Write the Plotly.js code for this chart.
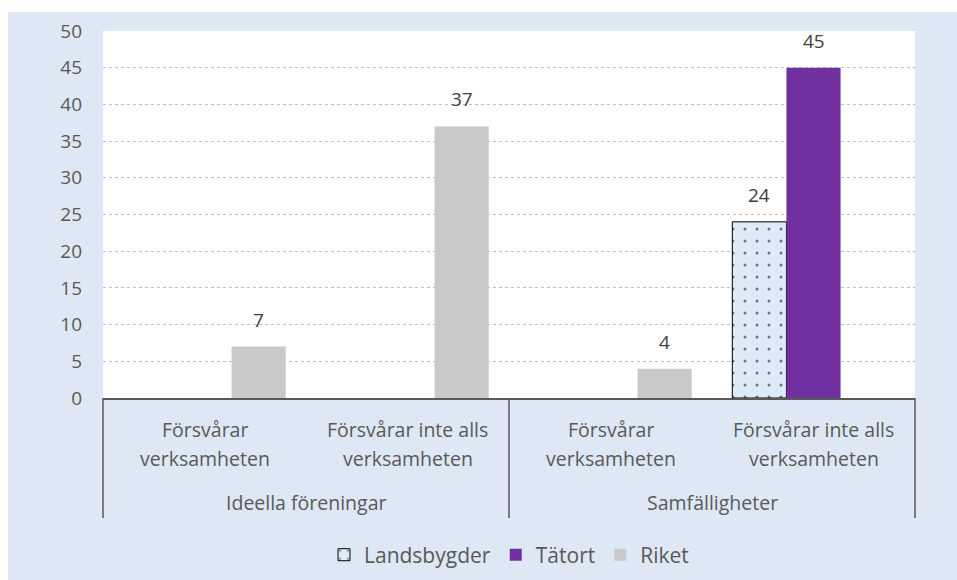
<!DOCTYPE html>
<html>
<head>
<meta charset="utf-8">
<script src="https://cdn.plot.ly/plotly-3.0.1.min.js"></script>
<style>
html,body{margin:0;padding:0;background:#ffffff;}
#chart{position:absolute;left:8px;top:12px;width:949px;height:568px;}
</style>
</head>
<body>
<div id="chart"></div>
<script>
// ---- data ----
var categories = ["Ideella föreningar|Försvårar verksamheten", "Ideella föreningar|Försvårar inte alls verksamheten",
                  "Samfälligheter|Försvårar verksamheten", "Samfälligheter|Försvårar inte alls verksamheten"];
var subLabelTop = ["Försvårar", "Försvårar inte alls", "Försvårar", "Försvårar inte alls"];
var subLabelBottom = ["verksamheten", "verksamheten", "verksamheten", "verksamheten"];
var groupLabels = ["Ideella föreningar", "Samfälligheter"];
var seriesNames = ["Landsbygder", "Tätort", "Riket"];
var landsbygder = [null, null, null, 24];
var tatort = [null, null, null, 45];
var riket = [7, 37, 4, null];
var yTicks = [0, 5, 10, 15, 20, 25, 30, 35, 40, 45, 50];

// ---- style ----
var W = 949, H = 568;
var M = {l: 95, r: 42, t: 19, b: 182, autoexpand: false};
var bargap = 0.2;
var font = "'Open Sans', sans-serif";
var txtColor = "#595959";
var lblColor = "#404040";

var traces = [
  {name: seriesNames[0], type: "bar", x: categories, y: landsbygder,
   marker: {color: "#DEEAF6", line: {color: "#000000", width: 1},
            pattern: {shape: ".", fgcolor: "#000000", bgcolor: "#DEEAF6", size: 12, solidity: 0.05, fillmode: "overlay"}}},
  {name: seriesNames[1], type: "bar", x: categories, y: tatort, marker: {color: "#7030A0"}},
  {name: seriesNames[2], type: "bar", x: categories, y: riket, marker: {color: "#C9C9C9"}}
];

var plotW = W - M.l - M.r;
var barPx = plotW / categories.length * (1 - bargap) / seriesNames.length;
var annotations = [];
var allSeries = [landsbygder, tatort, riket];
allSeries.forEach(function (vals, s) {
  vals.forEach(function (v, i) {
    if (v === null) return;
    annotations.push({x: categories[i], y: v, xref: "x", yref: "y", text: String(v), showarrow: false,
      xshift: (s - 1) * barPx, xanchor: "center", yanchor: "bottom", yshift: 12,
      font: {family: font, size: 19, color: lblColor}});
  });
});
categories.forEach(function (c, i) {
  annotations.push({x: c, xref: "x", y: -0.0845, yref: "paper", text: subLabelTop[i], showarrow: false,
    xanchor: "center", yanchor: "middle", font: {family: font, size: 19.5, color: txtColor}});
  annotations.push({x: c, xref: "x", y: -0.166, yref: "paper", text: subLabelBottom[i], showarrow: false,
    xanchor: "center", yanchor: "middle", font: {family: font, size: 19.5, color: txtColor}});
});
groupLabels.forEach(function (g, i) {
  annotations.push({x: 0.25 + 0.5 * i, xref: "paper", y: -0.286, yref: "paper", text: g, showarrow: false,
    xanchor: "center", yanchor: "middle", font: {family: font, size: 19.5, color: txtColor}});
});

var shapes = [0, 0.5, 1].map(function (px) {
  return {type: "line", xref: "paper", yref: "paper", x0: px, x1: px, y0: 0, y1: -0.327,
    line: {color: "#595959", width: 1.5}};
});

var layout = {
  width: W, height: H,
  margin: M,
  paper_bgcolor: "#DDE8F4",
  plot_bgcolor: "#FFFFFF",
  font: {family: font, color: txtColor, size: 19},
  barmode: "group", bargap: bargap, bargroupgap: 0,
  showlegend: true,
  legend: {orientation: "h", x: 0.5, xanchor: "center", y: -0.428, yanchor: "middle",
           font: {family: font, size: 21, color: txtColor}, bgcolor: "rgba(0,0,0,0)", itemwidth: 30},
  xaxis: {type: "category", showticklabels: false, showgrid: false, zeroline: false,
          showline: true, linecolor: "#595959", linewidth: 1.5, ticks: "", fixedrange: true},
  yaxis: {range: [0, 50], tickvals: yTicks, showgrid: true, gridcolor: "#BFBFBF", griddash: "dot", gridwidth: 1,
          zeroline: false, showline: false, ticks: "", ticklabelstandoff: 20,
          tickfont: {family: font, size: 19, color: txtColor}},
  annotations: annotations,
  shapes: shapes
};

Plotly.newPlot("chart", traces, layout, {displayModeBar: false, staticPlot: true});
</script>
</body>
</html>
